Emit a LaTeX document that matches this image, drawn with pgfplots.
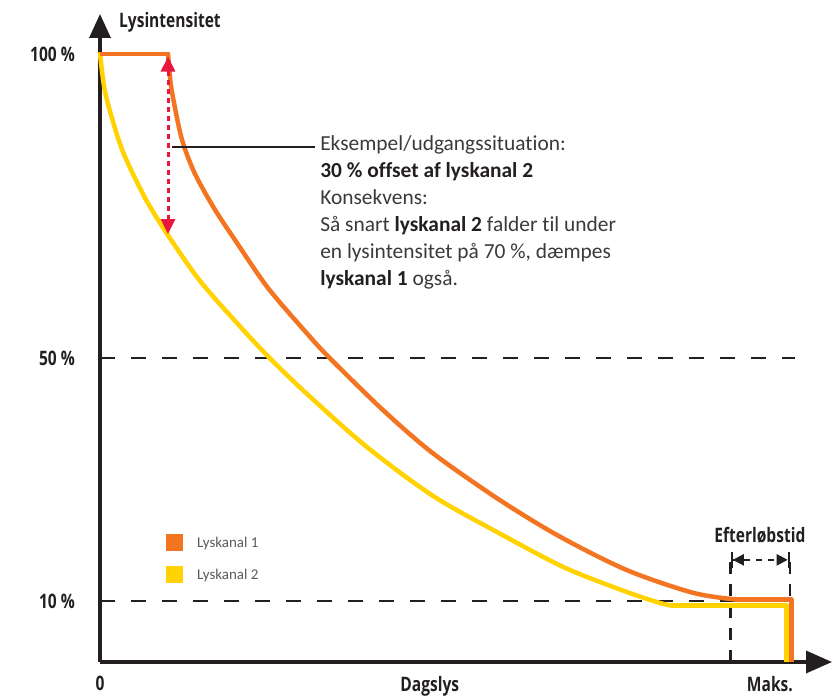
\documentclass[border=0pt]{standalone}
\usepackage{fontspec}
\setmainfont[Ligatures={NoCommon}]{Carlito}
\newfontfamily\condfont[FakeStretch=0.78]{Open Sans}
\usepackage{pgfplots}
\pgfplotsset{compat=1.18}
\usetikzlibrary{arrows.meta}
\definecolor{lkone}{HTML}{F37421}
\definecolor{lktwo}{HTML}{FFD200}
\definecolor{lkred}{HTML}{E8173D}
\definecolor{ink}{HTML}{231F20}
\definecolor{txt}{HTML}{3A3A3C}
\definecolor{leg}{HTML}{58595B}
\newcommand{\lbl}{\condfont\bfseries\fontsize{20}{20}\selectfont}
\begin{document}
\begin{tikzpicture}
\begin{axis}[
  scale only axis, width=732bp, height=648bp,
  xmin=0, xmax=106.1, ymin=0, ymax=106.6,
  clip=false,
  axis lines=left,
  axis line style={line width=3.5bp, ink},
  x axis line style={-{Triangle[length=26bp,width=22bp]}},
  y axis line style={-{Triangle[length=24bp,width=21bp]}},
  major tick length=0pt,
  ytick={10,50,100},
  yticklabels={10 \%, 50 \%, 100 \%},
  xtick={0,47.8,97.1},
  xticklabels={0,Dagslys,Maks.},
  tick label style={font=\lbl, text=ink, inner sep=0pt},
  yticklabel style={anchor=east, xshift=-25bp},
  xticklabel style={anchor=north, yshift=-14bp},
  reverse legend,
  legend style={at={(axis cs:9.57,21.05)}, anchor=north west, draw=none, fill=none,
    inner sep=0pt, row sep=15bp, font=\fontsize{15}{15}\selectfont, text=leg,
    nodes={inner sep=0pt}, cells={anchor=west}},
  legend image code/.code={\fill[#1,draw=none] (0bp,-8.5bp) rectangle (17bp,8.5bp);},
  curve/.style={line width=4.5bp, line join=round, line cap=round},
]
% reference lines
\draw[ink, line width=2.2bp, dash pattern=on 15bp off 16bp] (axis cs:0,50) -- (axis cs:100.7,50);
\draw[ink, line width=2.2bp, dash pattern=on 15bp off 16bp] (axis cs:0,10) -- (axis cs:100,10);
\draw[ink, line width=2.2bp, dash pattern=on 12bp off 10bp] (axis cs:91.4,0) -- (axis cs:91.4,17.9);
\draw[ink, line width=2.2bp, dash pattern=on 12bp off 10bp] (axis cs:100,0) -- (axis cs:100,17.9);

% Lyskanal 2
\addplot[lktwo, curve, smooth, tension=0.5] coordinates {
 (0,100) (0.6,94.6) (1.45,90.6) (3.3,84.0) (6.5,76.4) (9.86,70.2)
 (14.49,62.7) (20.3,55.2) (24.6,50.0) (30.0,44.1) (38.65,35.4)
 (48.3,27.3) (58.0,21.1) (67.4,15.5) (76.4,11.5) (81.2,9.7) (82.8,9.3)};
\addlegendentry{\hspace{14bp}Lyskanal 2}
\addplot[lktwo, curve, line cap=butt, forget plot] coordinates {
 (82.8,9.3) (99.5,9.3) (99.5,0)};
% Lyskanal 1
\addplot[lkone, curve, line cap=butt, forget plot] coordinates {
 (0,100) (9.86,100)};
\addplot[lkone, curve, smooth, tension=0.5] coordinates {
 (9.86,100) (10.05,97.5) (10.4,94.0) (11.84,86.1) (13.77,80.3) (16.67,74.4)
 (19.7,69.2) (24.3,61.6) (29.96,54.1) (33.3,50.0) (41.06,41.4) (48.3,34.3)
 (58.0,26.6) (66.7,20.6) (76.4,15.1) (85.9,11.4) (92.0,10.3)};
\addlegendentry{\hspace{14bp}Lyskanal 1}
\addplot[lkone, curve, line cap=butt, forget plot] coordinates {
 (92.0,10.3) (100.2,10.3) (100.2,0)};

% offset arrow
\draw[lkred, line width=3bp, dash pattern=on 5bp off 4bp,
  {Triangle[length=15bp,width=14bp]}-{Triangle[length=15bp,width=14bp]}]
  (axis cs:9.86,99.6) -- (axis cs:9.86,70.4);
\draw[ink, line width=1.8bp] (axis cs:10.4,84.7) -- (axis cs:31.2,84.7);
\node[anchor=north west, align=left, inner sep=0pt, text=txt,
  font=\fontsize{21.5}{27}\selectfont] at (axis cs:31.9,86.6)
  {Eksempel/udgangssituation:\\
   \textcolor{ink}{\textbf{30 \% offset af lyskanal 2}}\\
   Konsekvens:\\
   Så snart \textcolor{ink}{\textbf{lyskanal 2}} falder til under\\
   en lysintensitet på 70 \%, dæmpes\\
   \textcolor{ink}{\textbf{lyskanal 1}} også.};

% Efterløbstid
\draw[ink, line width=2.2bp, dash pattern=on 6bp off 6bp,
  {Bar[width=16bp]Triangle[length=11bp,width=11bp]}-{Triangle[length=11bp,width=11bp]Bar[width=16bp]}]
  (axis cs:91.4,16.8) -- (axis cs:100,16.8);
\node[font=\lbl, text=ink] at (axis cs:95.65,20.9) {Efterløbstid};
\node[font=\lbl, text=ink] at (axis cs:10.14,105.3) {Lysintensitet};
\end{axis}
\pgfresetboundingbox
\path[use as bounding box] (-100bp,-35bp) rectangle (735bp,662bp);
\end{tikzpicture}
\end{document}
